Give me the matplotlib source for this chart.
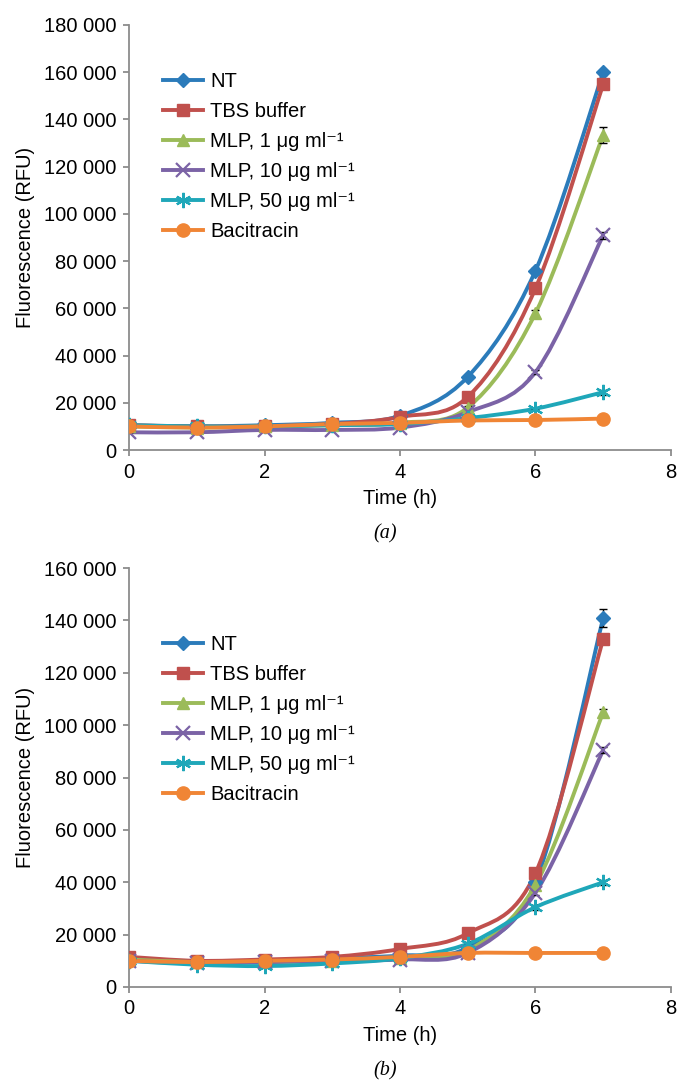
import matplotlib
matplotlib.use("Agg")
import matplotlib.pyplot as plt
from matplotlib.path import Path
from matplotlib.patches import PathPatch
from matplotlib.ticker import FuncFormatter, MultipleLocator

plt.rcParams['font.family'] = ['Liberation Sans', 'DejaVu Sans']

time_h = [0, 1, 2, 3, 4, 5, 6, 7]
labels = ['NT', 'TBS buffer', 'MLP, 1 μg ml⁻¹', 'MLP, 10 μg ml⁻¹',
          'MLP, 50 μg ml⁻¹', 'Bacitracin']

# panel (a)
a_nt = [10500, 10000, 10500, 11500, 14500, 31000, 76000, 160000]
a_tbs = [10500, 10000, 10000, 11000, 14000, 22500, 68500, 155000]
a_mlp1 = [10000, 9500, 10000, 10500, 11500, 18000, 58000, 133500]
a_mlp10 = [7500, 7500, 8500, 8500, 9500, 16000, 33000, 91000]
a_mlp50 = [10500, 10000, 10000, 10500, 11000, 13500, 17500, 24500]
a_bac = [10000, 9500, 10000, 11000, 11500, 12500, 12700, 13300]
a_err = [[0, 0, 0, 0, 0, 500, 1000, 1000],
         [0, 0, 0, 0, 0, 500, 1000, 1500],
         [0, 0, 0, 0, 0, 500, 1500, 3500],
         [0, 0, 0, 0, 0, 500, 1000, 1500],
         [0, 0, 0, 0, 0, 300, 500, 1000],
         [0, 0, 0, 0, 0, 0, 0, 0]]

# panel (b)
b_nt = [11000, 9500, 10000, 11000, 12000, 15000, 40000, 141000]
b_tbs = [11500, 10000, 10500, 11500, 14500, 20500, 43500, 133000]
b_mlp1 = [10500, 9500, 9500, 10000, 11000, 14000, 39000, 105000]
b_mlp10 = [10000, 9000, 9500, 10000, 10500, 13000, 36000, 90500]
b_mlp50 = [10000, 8500, 8000, 9000, 11000, 16500, 30500, 40000]
b_bac = [10000, 9500, 10000, 10500, 11500, 13000, 13000, 13000]
b_err = [[0, 0, 0, 0, 0, 500, 1000, 3500],
         [0, 0, 0, 0, 0, 500, 1000, 1500],
         [0, 0, 0, 0, 0, 500, 1000, 1000],
         [0, 0, 0, 0, 0, 500, 1000, 1000],
         [0, 0, 0, 0, 0, 500, 1000, 1000],
         [0, 0, 0, 0, 0, 0, 0, 0]]

colors = ['#2B7BBA', '#C0504D', '#9BBB59', '#7B63A6', '#1FA7B9', '#F08535']
markers = ['D', 's', '^', 'x', (6, 2, 0), 'o']
msizes = [7.5, 8.5, 9, 10, 11, 9.5]


def smooth_path(xs, ys):
    # excel style smooth line as cubic bezier segments
    verts = [(xs[0], ys[0])]
    codes = [Path.MOVETO]
    n = len(xs)
    for i in range(n - 1):
        x0, y0 = (xs[i - 1], ys[i - 1]) if i > 0 else (xs[i], ys[i])
        x1, y1 = xs[i], ys[i]
        x2, y2 = xs[i + 1], ys[i + 1]
        x3, y3 = (xs[i + 2], ys[i + 2]) if i + 2 < n else (x2, y2)
        verts += [(x1 + (x2 - x0) / 6, y1 + (y2 - y0) / 6),
                  (x2 - (x3 - x1) / 6, y2 - (y3 - y1) / 6),
                  (x2, y2)]
        codes += [Path.CURVE4] * 3
    return Path(verts, codes)


def fmt(v, pos):
    v = int(round(v))
    return '{:,}'.format(v).replace(',', ' ')


def draw(ax, series, errs, ymax, caption, leg_y):
    for ys, err, c, m, ms, lab in zip(series, errs, colors, markers, msizes, labels):
        ax.add_patch(PathPatch(smooth_path(time_h, ys), facecolor='none',
                               edgecolor=c, lw=2.8, zorder=2))
        ax.errorbar(time_h, ys, yerr=err, fmt='none', ecolor='black',
                    elinewidth=1, capsize=3, zorder=3)
        mew = 1.6 if m == 'x' or isinstance(m, tuple) else 1
        ax.plot(time_h, ys, linestyle='none', marker=m, color=c, ms=ms,
                mew=mew, zorder=4)
        ax.plot([], [], color=c, lw=2.8, marker=m, ms=ms, mew=mew, label=lab)
    ax.set_xlim(0, 8)
    ax.set_ylim(0, ymax)
    ax.xaxis.set_major_locator(MultipleLocator(2))
    ax.yaxis.set_major_locator(MultipleLocator(20000))
    ax.yaxis.set_major_formatter(FuncFormatter(fmt))
    for s in ['top', 'right']:
        ax.spines[s].set_visible(False)
    for s in ['left', 'bottom']:
        ax.spines[s].set_color('#8C8C8C')
        ax.spines[s].set_linewidth(1.3)
    ax.tick_params(axis='both', colors='#8C8C8C', labelcolor='black',
                   labelsize=14.5, length=4, width=1.3, direction='out', pad=5)
    ax.set_xlabel('Time (h)', fontsize=14.5)
    ax.set_ylabel('Fluorescence (RFU)', fontsize=14.5)
    h = ax.get_position().height * 1080
    ax.xaxis.set_label_coords(0.5, -39 / h)
    ax.yaxis.set_label_coords(-104 / 542, 0.5)
    ax.yaxis.label.set_va('center')
    ax.legend(loc='upper left', bbox_to_anchor=(0.063, leg_y), frameon=False,
              fontsize=14.5, handlelength=2.0, labelspacing=0.55,
              handletextpad=0.35, borderpad=0, borderaxespad=0)
    ax.text(0.472, -84 / h, caption, transform=ax.transAxes, ha='center',
            va='center', fontsize=14.5, family='Liberation Serif', style='italic')


fig = plt.figure(figsize=(6.78, 10.8), dpi=100)
ax1 = fig.add_axes([129 / 678, 1 - 450 / 1080, 542 / 678, 425 / 1080])
ax2 = fig.add_axes([129 / 678, 1 - 987 / 1080, 542 / 678, 419 / 1080])

draw(ax1, [a_nt, a_tbs, a_mlp1, a_mlp10, a_mlp50, a_bac], a_err, 180000, '(a)', 0.89)
draw(ax2, [b_nt, b_tbs, b_mlp1, b_mlp10, b_mlp50, b_bac], b_err, 160000, '(b)', 0.84)

fig.savefig('out.png', dpi=100)
